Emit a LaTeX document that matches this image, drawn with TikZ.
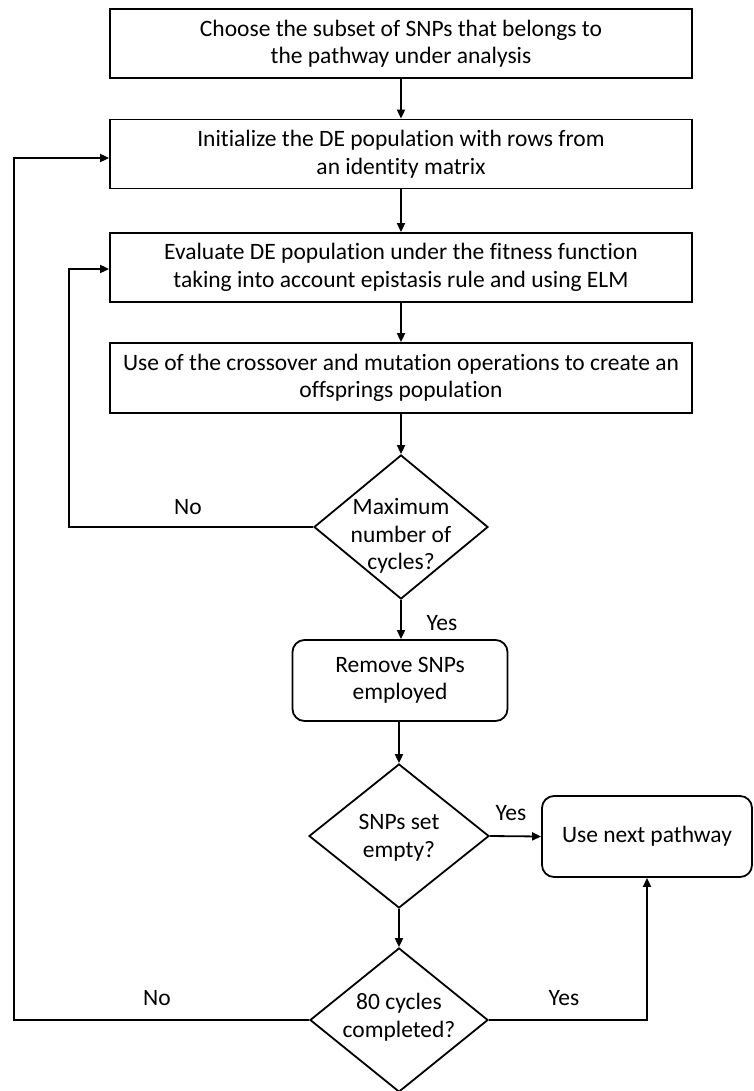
\documentclass[tikz,border=0pt]{standalone}
\usepackage{fontspec}
\setmainfont[RawFeature={-liga}]{Carlito}
\usetikzlibrary{shapes.geometric,arrows.meta}
\begin{document}
\begin{tikzpicture}[x=1pt,y=-1pt,
  every node/.style={font=\fontsize{23.5}{27.5}\selectfont},
  box/.style={draw, line width=1.8pt, minimum width=582pt, minimum height=69pt, align=center, inner sep=0pt},
  rbox/.style={draw, line width=1.8pt, rounded corners=12pt, align=center, inner sep=0pt},
  dia/.style={draw, diamond, line width=1.8pt, inner sep=0pt, minimum width=174pt, minimum height=144pt},
  conn/.style={line width=1.8pt, -{Triangle[length=9pt,width=8pt]}},
  lab/.style={inner sep=0pt}
]
\useasboundingbox (0,0) rectangle (754,1091);
\node[box] (b1) at (401,43.5) {Choose the subset of SNPs that belongs to\\the pathway under analysis};
\node[box] (b2) at (401,154) {Initialize the DE population with rows from\\an identity matrix};
\node[box] (b3) at (401,267.5) {Evaluate DE population under the fitness function\\taking into account epistasis rule and using ELM};
\node[box, minimum height=70pt] (b4) at (401,378) {Use of the crossover and mutation operations to create an\\offsprings population};
\node[dia, label={[align=center, yshift=-9pt]center:Maximum\\number of\\cycles?}] (d1) at (401,527) {};
\node[rbox, minimum width=215pt, minimum height=81pt] (r) at (400,680.5) {Remove SNPs\\employed};
\node[dia, minimum width=180pt, label={[align=center, yshift=-2pt]center:SNPs set\\empty?}] (d2) at (399,836) {};
\node[rbox, minimum width=210pt, minimum height=81pt] (u) at (647,836.5) {Use next pathway};
\node[dia, minimum width=178pt, label={[align=center, yshift=3pt]center:80 cycles\\completed?}] (d3) at (399,1020) {};
\coordinate (k1) at (69,0);
\coordinate (k2) at (14,0);
\draw[conn] (b1.south) -- (b2.north);
\draw[conn] (b2.south) -- (b3.north);
\draw[conn] (b3.south) -- (b4.north);
\draw[conn] (b4.south) -- (d1.north);
\draw[conn] (d1.south) -- (d1.south |- r.north);
\draw[conn] (r.south) -- (r.south -| d2.north) -- (d2.north);
\draw[conn] (d2.east) -- (u.west);
\draw[conn] (d2.south) -- (d3.north);
\draw[conn] (d1.west) -- (d1.west -| k1) |- ([yshift=-1.5pt]b3.west);
\draw[conn] (d3.west) -- (d3.west -| k2) |- ([yshift=-4pt]b2.west);
\draw[conn] (d3.east) -| (u.south);
\node[lab] (n1) at (188,507) {No};
\node[lab] (y1) at (442,623) {Yes};
\node[lab] (y2) at (511,813) {Yes};
\node[lab] (n2) at (157,998) {No};
\node[lab] (y3) at (564,998) {Yes};
\end{tikzpicture}
\end{document}
